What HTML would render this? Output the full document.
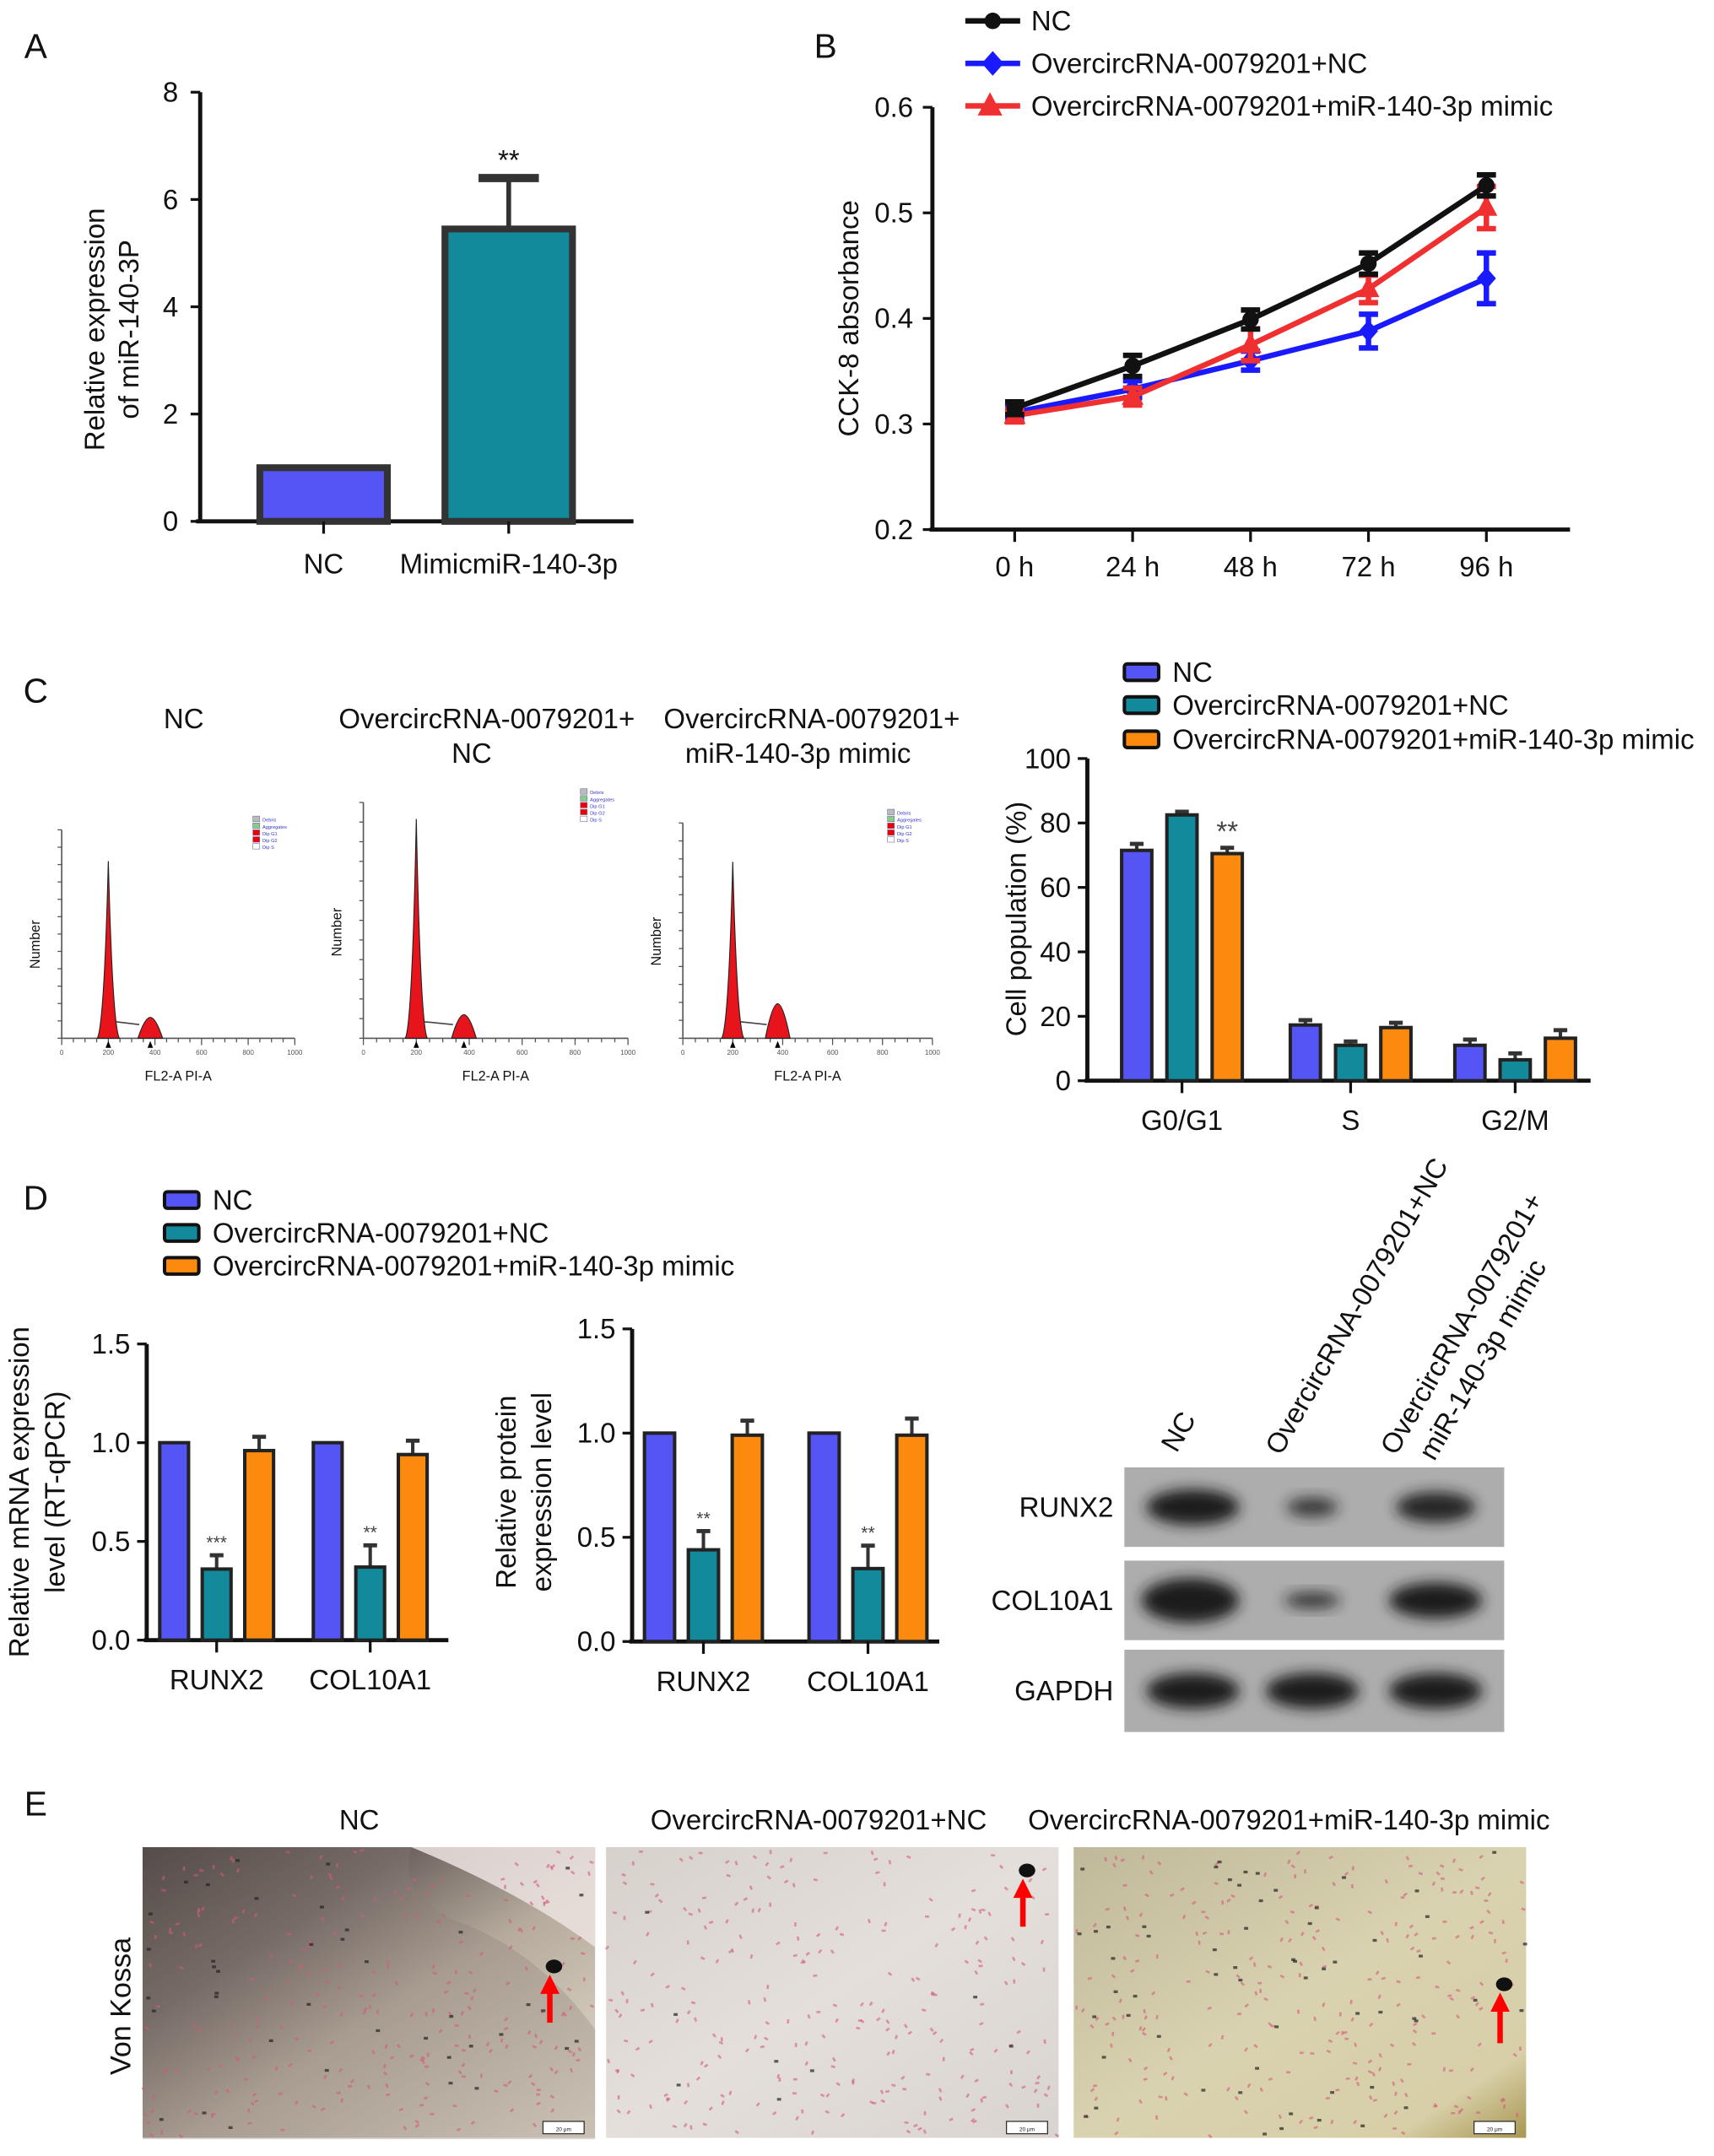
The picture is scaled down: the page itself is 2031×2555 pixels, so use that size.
<!DOCTYPE html>
<html><head><meta charset="utf-8">
<style>
html,body{margin:0;padding:0;background:#fff;}
svg{display:block;font-family:"Liberation Sans",Arial,sans-serif;}
</style></head>
<body>
<svg id="fig" width="2031" height="2555" viewBox="0 0 1250 1572" xmlns="http://www.w3.org/2000/svg">
<defs>
<filter id="blur4" x="-50%" y="-50%" width="200%" height="200%"><feGaussianBlur stdDeviation="5"/></filter>
<linearGradient id="gE1" x1="0" y1="0" x2="1" y2="1"><stop offset="0" stop-color="#3e3836"/><stop offset="0.3" stop-color="#6e6460"/><stop offset="0.55" stop-color="#b5aa9c"/><stop offset="1" stop-color="#e6dfcf"/></linearGradient>
<linearGradient id="gE2" x1="0" y1="0" x2="1" y2="1"><stop offset="0" stop-color="#d7d1cc"/><stop offset="0.5" stop-color="#e4dfda"/><stop offset="1" stop-color="#d9d4d0"/></linearGradient>
<linearGradient id="gE3" x1="0" y1="0" x2="1" y2="1"><stop offset="0" stop-color="#bfb89a"/><stop offset="0.5" stop-color="#d9d2b0"/><stop offset="0.85" stop-color="#d8cfa8"/><stop offset="1" stop-color="#a89650"/></linearGradient>
</defs>
<g id="root"></g>
</svg>
<script>
// ===== Panel A data =====
const aCats = ["NC","MimicmiR-140-3p"];
const aVals = [1.0, 5.45];
const aErrs = [0, 0.95];
const aTicks = [0,2,4,6,8];
// ===== Panel B data =====
const bCats = ["0 h","24 h","48 h","72 h","96 h"];
const bNames = ["NC","OvercircRNA-0079201+NC","OvercircRNA-0079201+miR-140-3p mimic"];
const bNC = [0.315,0.355,0.399,0.452,0.526];
const bOver = [0.311,0.333,0.360,0.388,0.438];
const bMimic = [0.308,0.326,0.375,0.428,0.505];
const bErrNC = [0.006,0.01,0.009,0.01,0.01];
const bErrOver = [0.005,0.008,0.009,0.016,0.024];
const bErrMimic = [0.006,0.008,0.015,0.013,0.02];
const bTicks = [0.2,0.3,0.4,0.5,0.6];
// ===== Panel C bar data =====
const cCats = ["G0/G1","S","G2/M"];
const cNC = [71.5,17.3,11.0];
const cOver = [82.5,11.0,6.5];
const cMimic = [70.5,16.5,13.2];
const cErrNC = [2.0,1.5,1.8];
const cErrOver = [1.0,1.2,2.0];
const cErrMimic = [1.8,1.5,2.5];
const cTicks = [0,20,40,60,80,100];
// ===== Panel C flow histograms (peak heights as fraction of axis) =====
const flowG1 = [0.85,0.93,0.82];
const flowG2 = [0.10,0.10,0.16];
// ===== Panel D data =====
const dCats = ["RUNX2","COL10A1"];
const dmNC = [1.0,1.0];
const dmOver = [0.36,0.37];
const dmMimic = [0.96,0.94];
const dmErrOver = [0.07,0.11];
const dmErrMimic = [0.07,0.07];
const dpNC = [1.0,1.0];
const dpOver = [0.44,0.35];
const dpMimic = [0.99,0.99];
const dpErrOver = [0.09,0.11];
const dpErrMimic = [0.07,0.08];
const dTicks = [0.0,0.5,1.0,1.5];

const NS="http://www.w3.org/2000/svg";
const root=document.getElementById('root');
function el(tag,attrs,parent,text){const e=document.createElementNS(NS,tag);for(const k in attrs)e.setAttribute(k,attrs[k]);if(text!==undefined)e.textContent=text;(parent||root).appendChild(e);return e;}
function txt(x,y,s,size,anchor,parent,extra){if(size===18)size=20.3;const t=el('text',Object.assign({x:x,y:y,'font-size':size,'text-anchor':anchor||'middle',fill:'#111'},extra||{}),parent,s);return t;}
const BLUE='#5555f5',TEAL='#128a9c',ORANGE='#fc8a0e';

// panel labels
[["A",26,42],["B",602,42],["C",26,512],["D",26,882],["E",26,1324]].forEach(p=>{
 const t=txt(p[1],p[2],p[0],25,'middle');
 
 
});

// ===== Panel A =====
(function(){
 const g=el('g',{});
 
 
 const x0=146,x1=462,yb=380,yt=67,vmax=8;
 const y=v=>yb-(yb-yt)*v/vmax;
 el('line',{x1:x0,y1:yt,x2:x0,y2:yb,stroke:'#111','stroke-width':3},g);
 el('line',{x1:x0-3,y1:yb,x2:x1,y2:yb,stroke:'#111','stroke-width':3},g);
 aTicks.forEach(t=>{el('line',{x1:x0-7,y1:y(t),x2:x0,y2:y(t),stroke:'#111','stroke-width':2},g);txt(x0-16,y(t)+7,String(t),18,'end',g);});
 const cx=[236,371],w=93,cols=[BLUE,TEAL];
 aCats.forEach((c,i)=>{
  if(aErrs[i]>0){el('line',{x1:cx[i],y1:y(aVals[i]),x2:cx[i],y2:y(aVals[i]+aErrs[i]),stroke:'#333','stroke-width':3.5},g);
   el('line',{x1:cx[i]-22,y1:y(aVals[i]+aErrs[i]),x2:cx[i]+22,y2:y(aVals[i]+aErrs[i]),stroke:'#333','stroke-width':6},g);}
  const r=el('rect',{x:cx[i]-w/2,y:y(aVals[i]),width:w,height:yb-y(aVals[i]),fill:cols[i],stroke:'#333','stroke-width':5},g);
  
  
  el('line',{x1:cx[i],y1:yb,x2:cx[i],y2:yb+9,stroke:'#111','stroke-width':2},g);
  txt(cx[i],y(0)+38,c,18,'middle',g);
 });
 txt(371,y(aVals[1]+aErrs[1])-6,"**",18,'middle',g);
 const yt1=txt(0,0,"Relative expression",18,'middle',g,{transform:'translate(76,240) rotate(-90)'});
 
 txt(0,0,"of miR-140-3P",18,'middle',g,{transform:'translate(101,240) rotate(-90)'});
})();

// ===== Panel B =====
(function(){
 const g=el('g',{});
 
 
 const x0=680,x1=1145,yb=386,yt=78;
 const y=v=>yb-(yb-yt)*(v-0.2)/0.4;
 const xs=i=>740+i*86;
 el('line',{x1:x0,y1:yt,x2:x0,y2:yb,stroke:'#111','stroke-width':3},g);
 el('line',{x1:x0-2,y1:yb,x2:x1,y2:yb,stroke:'#111','stroke-width':3},g);
 bTicks.forEach(t=>{el('line',{x1:x0-7,y1:y(t),x2:x0,y2:y(t),stroke:'#111','stroke-width':2},g);txt(x0-14,y(t)+7,t.toFixed(1),18,'end',g);});
 bCats.forEach((c,i)=>{el('line',{x1:xs(i),y1:yb,x2:xs(i),y2:yb+9,stroke:'#111','stroke-width':2},g);txt(xs(i),yb+34,c,18,'middle',g);});
 const series=[[bOver,bErrOver,'#1a1aff','diamond'],[bMimic,bErrMimic,'#f03030','tri'],[bNC,bErrNC,'#111','circle']];
 series.forEach((s,si)=>{
  const sg=el('g',{},g);
  
  
  el('polyline',{points:s[0].map((v,i)=>xs(i)+','+y(v)).join(' '),fill:'none',stroke:s[2],'stroke-width':4},sg);
  s[0].forEach((v,i)=>{
   const x=xs(i);
   el('line',{x1:x,y1:y(v-s[1][i]),x2:x,y2:y(v+s[1][i]),stroke:s[2],'stroke-width':4},sg);
   el('line',{x1:x-7,y1:y(v+s[1][i]),x2:x+7,y2:y(v+s[1][i]),stroke:s[2],'stroke-width':4},sg);
   el('line',{x1:x-7,y1:y(v-s[1][i]),x2:x+7,y2:y(v-s[1][i]),stroke:s[2],'stroke-width':4},sg);
   let m;
   if(s[3]=='circle')m=el('circle',{cx:x,cy:y(v),r:6,fill:s[2]},sg);
   else if(s[3]=='diamond')m=el('polygon',{points:`${x},${y(v)-8} ${x+7},${y(v)} ${x},${y(v)+8} ${x-7},${y(v)}`,fill:s[2]},sg);
   else m=el('polygon',{points:`${x},${y(v)-9} ${x+8},${y(v)+6} ${x-8},${y(v)+6}`,fill:s[2]},sg);
   
   
  });
 });
 const yt2=txt(0,0,"CCK-8  absorbance",18,'middle',g,{transform:'translate(626,232) rotate(-90)'});
 
 const lg=[[15,'#111','circle'],[46,'#1a1aff','diamond'],[77,'#f03030','tri']];
 lg.forEach((l,i)=>{
  const e=el('g',{},g);
  
  
  el('line',{x1:704,y1:l[0],x2:744,y2:l[0],stroke:l[1],'stroke-width':4},e);
  if(l[2]=='circle')el('circle',{cx:724,cy:l[0],r:6,fill:l[1]},e);
  else if(l[2]=='diamond')el('polygon',{points:`724,${l[0]-9} 732,${l[0]} 724,${l[0]+9} 716,${l[0]}`,fill:l[1]},e);
  else el('polygon',{points:`722,${l[0]-10} 731,${l[0]+7} 713,${l[0]+7}`,fill:l[1]},e);
  txt(752,l[0]+7,bNames[i],18,'start',e);
 });
})();

// ===== Panel C flow histograms =====
(function(){
 const titles=[[134,531,"NC"],[355,531,"OvercircRNA-0079201+"],[344,556,"NC"],[592,531,"OvercircRNA-0079201+"],[582,556,"miR-140-3p  mimic"]];
 titles.forEach(t=>{const e=txt(t[0],t[1],t[2],18,'middle');});
 const boxes=[{x0:45,x1:215,yt:605,yb:757},{x0:265,x1:458,yt:585,yb:757},{x0:498,x1:680,yt:600,yb:757}];
 boxes.forEach((b,i)=>{
  const g=el('g',{});
  
  
  const w=b.x1-b.x0,h=b.yb-b.yt;
  const xp=f=>b.x0+w*f;
  el('line',{x1:b.x0,y1:b.yt,x2:b.x0,y2:b.yb,stroke:'#555','stroke-width':1},g);
  el('line',{x1:b.x0,y1:b.yb,x2:b.x1,y2:b.yb,stroke:'#555','stroke-width':1},g);
  for(let k=0;k<=20;k++){el('line',{x1:xp(k/20),y1:b.yb,x2:xp(k/20),y2:b.yb+(k%4==0?5:3),stroke:'#555','stroke-width':0.8},g);}
  for(let k=0;k<=12;k++){el('line',{x1:b.x0-3,y1:b.yb-h*k/12,x2:b.x0,y2:b.yb-h*k/12,stroke:'#555','stroke-width':0.8},g);}
  [0,200,400,600,800,1000].forEach(v=>txt(xp(v/1000),b.yb+12,String(v),5,'middle',g,{fill:'#555'}));
  const g1=xp(0.2),g2=xp(0.38),p1=b.yb-h*flowG1[i],p2=b.yb-h*flowG2[i];
  el('path',{d:`M${g1-8},${b.yb} Q${g1-3},${b.yb-10} ${g1},${p1} Q${g1+3},${b.yb-10} ${g1+8},${b.yb} Z`,fill:'#e8141c',stroke:'#222','stroke-width':0.7},g);
  el('path',{d:`M${g2-9},${b.yb} Q${g2-4},${p2} ${g2},${p2} Q${g2+4},${p2} ${g2+9},${b.yb} Z`,fill:'#e8141c',stroke:'#222','stroke-width':0.7},g);
  el('path',{d:`M${g1+6},${b.yb-12} L${g2-8},${b.yb-10}`,stroke:'#444','stroke-width':1,fill:'none'},g);
  el('polygon',{points:`${g1},${b.yb+2} ${g1+2},${b.yb+7} ${g1-2},${b.yb+7}`,fill:'#000'},g);
  el('polygon',{points:`${g2},${b.yb+2} ${g2+2},${b.yb+7} ${g2-2},${b.yb+7}`,fill:'#000'},g);
  txt(0,0,"Number",10,'middle',g,{transform:`translate(${b.x0-16},${b.yt+h*0.55}) rotate(-90)`});
  txt(b.x0+w*0.5,b.yb+31,"FL2-A PI-A",10,'middle',g);
  const lx=b.x0+w*0.82,ly=b.yt-10;
  ['#bbb','#8c8','#e00','#e00','#fff'].forEach((c,k)=>{el('rect',{x:lx,y:ly+k*5,width:5,height:4,fill:c,stroke:'#77a','stroke-width':0.4},g);txt(lx+7,ly+k*5+4,['Debris','Aggregates','Dip G1','Dip G2','Dip S'][k],3.5,'start',g,{fill:'#33c'});});
 });
})();

// generic grouped bar chart
function grouped(opts){
 const g=el('g',{});
 
 
 const y=v=>opts.yb-(opts.yb-opts.yt)*(v-opts.vmin)/(opts.vmax-opts.vmin);
 el('line',{x1:opts.x0,y1:opts.yt,x2:opts.x0,y2:opts.yb,stroke:'#111','stroke-width':3},g);
 el('line',{x1:opts.x0-2,y1:opts.yb,x2:opts.x1,y2:opts.yb,stroke:'#111','stroke-width':3},g);
 opts.ticks.forEach(t=>{el('line',{x1:opts.x0-7,y1:y(t),x2:opts.x0,y2:y(t),stroke:'#111','stroke-width':2},g);txt(opts.x0-12,y(t)+7,opts.fmt(t),18,'end',g);});
 const cols=[BLUE,TEAL,ORANGE];
 opts.cats.forEach((c,ci)=>{
  const cx=opts.centers[ci];
  opts.series.forEach((s,si)=>{
   const bx=cx+(si-1)*opts.step,v=s[ci],e=opts.errs[si][ci];
   if(e>0){el('line',{x1:bx,y1:y(v),x2:bx,y2:y(v+e),stroke:'#333','stroke-width':2.5},g);
    el('line',{x1:bx-5,y1:y(v+e),x2:bx+5,y2:y(v+e),stroke:'#333','stroke-width':3},g);}
   const r=el('rect',{x:bx-opts.bw/2,y:y(v),width:opts.bw,height:opts.yb-y(v),fill:cols[si],stroke:'#222','stroke-width':2.5},g);
   
   
   if(opts.stars&&opts.stars[si]&&opts.stars[si][ci])txt(bx,y(v+e)-5,opts.stars[si][ci],opts.starSize||16,'middle',g,{fill:'#444'});
  });
  el('line',{x1:cx,y1:opts.yb,x2:cx,y2:opts.yb+9,stroke:'#111','stroke-width':2},g);
  txt(cx,opts.yb+36,c,18,'middle',g);
 });
 return g;
}
grouped({name:'panel-c-bar-chart',x0:793,x1:1160,yt:553,yb:788,vmin:0,vmax:100,ticks:cTicks,fmt:t=>String(t),cats:cCats,centers:[862,985,1105],step:33,bw:22,series:[cNC,cOver,cMimic],errs:[cErrNC,cErrOver,cErrMimic],stars:[null,null,["**"]],starSize:18});
const ytc=txt(0,0,"Cell population (%)",18,'middle',root,{transform:'translate(748,670) rotate(-90)'});


function legend(x,ys,names){
 const cols=[BLUE,TEAL,ORANGE];
 ys.forEach((yy,i)=>{
  const e=el('g',{});
  
  
  el('rect',{x:x,y:yy-6,width:25,height:12,rx:2,fill:cols[i],stroke:'#111','stroke-width':2.5},e);
  txt(x+35,yy+7,names[i],18,'start',e);
 });
}
legend(820,[490,514,539],bNames);
legend(120,[875,899,923],bNames);

// ===== Panel D =====
grouped({name:'panel-d-mrna-chart',x0:107,x1:327,yt:980,yb:1196,vmin:0,vmax:1.5,ticks:dTicks,fmt:t=>t.toFixed(1),cats:dCats,centers:[158,270],step:31,bw:21,series:[dmNC,dmOver,dmMimic],errs:[[0,0],dmErrOver,dmErrMimic],stars:[null,["***","**"],null],starSize:13});
grouped({name:'panel-d-protein-chart',x0:461,x1:685,yt:969,yb:1197,vmin:0,vmax:1.5,ticks:dTicks,fmt:t=>t.toFixed(1),cats:dCats,centers:[513,633],step:32,bw:22,series:[dpNC,dpOver,dpMimic],errs:[[0,0],dpErrOver,dpErrMimic],stars:[null,["**","**"],null],starSize:13});
txt(0,0,"Relative mRNA expression",18,'middle',root,{transform:'translate(21,1088) rotate(-90)'});
txt(0,0,"level (RT-qPCR)",18,'middle',root,{transform:'translate(47,1088) rotate(-90)'});
txt(0,0,"Relative protein",18,'middle',root,{transform:'translate(376,1088) rotate(-90)'});
txt(0,0,"expression level",18,'middle',root,{transform:'translate(402,1088) rotate(-90)'});

// western blot
(function(){
 const g=el('g',{});
 
 
 const rows=[["RUNX2",1070,1128,[[870,1,1],[957,0.55,0.55],[1047,0.85,0.85]]],["COL10A1",1138,1196,[[868,1.1,1.25],[957,0.6,0.45],[1047,1,1]]],["GAPDH",1203,1263,[[870,1,1],[957,1,1],[1047,1,1]]]];
 rows.forEach(r=>{
  const rg=el('g',{},g);
  
  
  el('rect',{x:820,y:r[1],width:277,height:r[2]-r[1],fill:'#adadad'},rg);
  const cy=(r[1]+r[2])/2;
  r[3].forEach(b=>{el('ellipse',{cx:b[0],cy:cy,rx:34*Math.min(1.05,b[1]),ry:13*b[2],fill:'#1a1a1a',opacity:0.55+0.45*Math.min(1,b[1]),filter:'url(#blur4)'},rg);});
  txt(812,cy+7,r[0],18,'end',rg);
 });
 txt(0,0,"NC",18,'start',g,{transform:'translate(858,1060) rotate(-60)'});
 txt(0,0,"OvercircRNA-0079201+NC",18,'start',g,{transform:'translate(934,1062) rotate(-60)'});
 txt(0,0,"OvercircRNA-0079201+",18,'start',g,{transform:'translate(1018,1062) rotate(-60)'});
 txt(0,0,"miR-140-3p  mimic",18,'start',g,{transform:'translate(1046,1066) rotate(-60)'});
})();

// ===== Panel E micrographs =====
(function(){
 const titles=[[262,"NC"],[597,"OvercircRNA-0079201+NC"],[940,"OvercircRNA-0079201+miR-140-3p mimic"]];
 titles.forEach(t=>{const e=txt(t[0],1334,t[1],18,'middle');});
 txt(0,0,"Von  Kossa",21,'middle',root,{transform:'translate(95,1463) rotate(-90)'});
 const imgs=[[104,'url(#gE1)',[401,1440,1475]],[442,'url(#gE2)',[746,1370,1405]],[783,'url(#gE3)',[1094,1453,1490]]];
 let seed=7;const rnd=()=>{seed=(seed*16807)%2147483647;return seed/2147483647;};
 imgs.forEach((m,i)=>{
  const g=el('g',{});
  
  
  el('rect',{x:m[0],y:1347,width:330,height:212,fill:m[1]},g);
  if(i==0){el('path',{d:'M104,1347 L300,1347 Q290,1380 330,1400 Q390,1420 434,1480 L434,1560 L104,1560 Z',fill:'#8a7f78',opacity:0.3},g);
   el('path',{d:'M300,1347 L434,1347 L434,1420 Q380,1380 300,1347 Z',fill:'#ece3e0',opacity:0.85},g);}
  for(let k=0;k<260;k++){const x=m[0]+rnd()*326+2,yv=1349+rnd()*208;el('rect',{x:x,y:yv,width:3,height:1.6,fill:'#d45a7a',opacity:0.6,transform:`rotate(${rnd()*180} ${x} ${yv})`},g);}
  const nd=i==1?8:(i==0?40:60);
  for(let k=0;k<nd;k++){const x=m[0]+rnd()*326+2,yv=1349+rnd()*208;el('rect',{x:x,y:yv,width:3,height:2,fill:'#222',opacity:0.7},g);}
  el('rect',{x:m[0]+292,y:1547,width:30,height:9,fill:'#fff',stroke:'#333','stroke-width':0.8},g);
  txt(m[0]+307,1554,"20 μm",4,'middle',g);
  const a=m[2];
  const ar=el('g',{},g);
  
  
  el('line',{x1:a[0],y1:a[2],x2:a[0],y2:a[1]+10,stroke:'#ff0000','stroke-width':4},ar);
  el('polygon',{points:`${a[0]},${a[1]} ${a[0]+7},${a[1]+14} ${a[0]-7},${a[1]+14}`,fill:'#ff0000'},ar);
  el('ellipse',{cx:a[0]+3,cy:a[1]-6,rx:6,ry:5,fill:'#111'},g);
 });
})();
</script>
</body></html>
